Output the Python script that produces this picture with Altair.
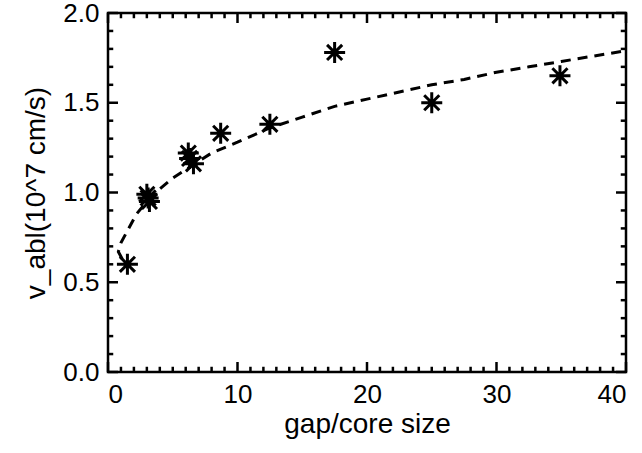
import altair as alt
import pandas as pd

# Measured absorption speed against gap/core size
gap_ratio = [1.5, 3.0, 3.2, 3.1, 6.2, 6.3, 6.6, 8.7, 12.5, 17.5, 25.0, 34.9]
v_abl = [0.60, 0.99, 0.95, 0.97, 1.22, 1.19, 1.16, 1.33, 1.38, 1.78, 1.50, 1.65]

# Fitted curve, in drawing order (it folds back at small sizes)
fit_x = [1.1, 0.8, 1.0, 1.6, 2.2, 3.0, 4.0, 5.0, 6.5, 8.0, 10.0, 12.5, 15.0,
         17.5, 20.0, 22.5, 25.0, 27.5, 30.0, 32.5, 35.0, 37.5, 40.0]
fit_y = [0.63, 0.67, 0.72, 0.80, 0.88, 0.95, 1.02, 1.08, 1.15, 1.22, 1.28, 1.36, 1.42,
         1.48, 1.52, 1.56, 1.60, 1.63, 1.67, 1.70, 1.73, 1.76, 1.79]

# Tick values
x_major = [0, 10, 20, 30, 40]
x_minor = [v for v in range(0, 41) if v % 10]
y_major = [0.0, 0.5, 1.0, 1.5, 2.0]
y_minor = [round(i * 0.1, 1) for i in range(21) if i % 5]

X_DOMAIN = [0, 40]
Y_DOMAIN = [0, 2]

points = pd.DataFrame({"gap": gap_ratio, "v": v_abl})
fit = pd.DataFrame({"gap": fit_x, "v": fit_y, "i": list(range(len(fit_x)))})

# one row per inward tick on each side of the frame
tick_rows = []
for v in x_major + x_minor:
    kind = "major" if v in x_major else "minor"
    tick_rows.append({"gap": v, "v": Y_DOMAIN[0], "side": "bottom", "kind": kind})
    tick_rows.append({"gap": v, "v": Y_DOMAIN[1], "side": "top", "kind": kind})
for v in y_major + y_minor:
    kind = "major" if v in y_major else "minor"
    tick_rows.append({"gap": X_DOMAIN[0], "v": v, "side": "left", "kind": kind})
    tick_rows.append({"gap": X_DOMAIN[1], "v": v, "side": "right", "kind": kind})
ticks = pd.DataFrame(tick_rows)

W, H = 518, 359
FONT = "Liberation Sans"
LABEL_FS = 26
TITLE_FS = 28
STAR = "M-1,0H1M0,-1V1M-0.72,-0.72L0.72,0.72M-0.72,0.72L0.72,-0.72"

x_scale = alt.Scale(domain=X_DOMAIN, nice=False, zero=False)
y_scale = alt.Scale(domain=Y_DOMAIN, nice=False, zero=False)

x_axis = alt.Axis(
    values=x_major, ticks=False, domain=False, grid=False,
    labelFont=FONT, labelFontSize=LABEL_FS, labelColor="black", labelPadding=9,
    title="gap/core size", titleFont=FONT, titleFontSize=TITLE_FS,
    titleFontWeight="normal", titleColor="black", titlePadding=3,
)
y_axis = alt.Axis(
    values=y_major, format=".1f", ticks=False, domain=False, grid=False,
    labelFont=FONT, labelFontSize=LABEL_FS, labelColor="black", labelPadding=9,
    title="v_abl(10^7 cm/s)", titleFont=FONT, titleFontSize=TITLE_FS,
    titleFontWeight="normal", titleColor="black", titlePadding=12,
)

curve = alt.Chart(fit).mark_line(
    color="black", strokeWidth=3, strokeDash=[10, 7]
).encode(
    x=alt.X("gap:Q", scale=x_scale, axis=x_axis),
    y=alt.Y("v:Q", scale=y_scale, axis=y_axis),
    order="i:Q",
)

stars = alt.Chart(points).mark_point(
    shape=STAR, size=441, filled=False, color="black", strokeWidth=3,
    opacity=1,
).encode(
    x=alt.X("gap:Q", scale=x_scale),
    y=alt.Y("v:Q", scale=y_scale),
)

# each tick is a one-sided stroke pointing into the plot
tick_marks = alt.Chart(ticks).mark_point(
    filled=False, color="black", stroke="black", strokeWidth=2.5, opacity=1,
).encode(
    x=alt.X("gap:Q", scale=x_scale),
    y=alt.Y("v:Q", scale=y_scale),
    shape=alt.Shape(
        "side:N", legend=None,
        scale=alt.Scale(domain=["bottom", "top", "left", "right"],
                        range=["M0,0V-1", "M0,0V1", "M0,0H1", "M0,0H-1"]),
    ),
    size=alt.Size(
        "kind:N", legend=None,
        scale=alt.Scale(domain=["major", "minor"], range=[400, 110]),
    ),
)

chart = alt.layer(curve, stars, tick_marks).properties(
    width=W, height=H, autosize="none",
    padding={"left": 108, "top": 13, "right": 16, "bottom": 81},
    background="white",
).configure_view(stroke="black", strokeWidth=2.5)

chart.save("out.html", embed_options={"renderer": "svg", "actions": False})
